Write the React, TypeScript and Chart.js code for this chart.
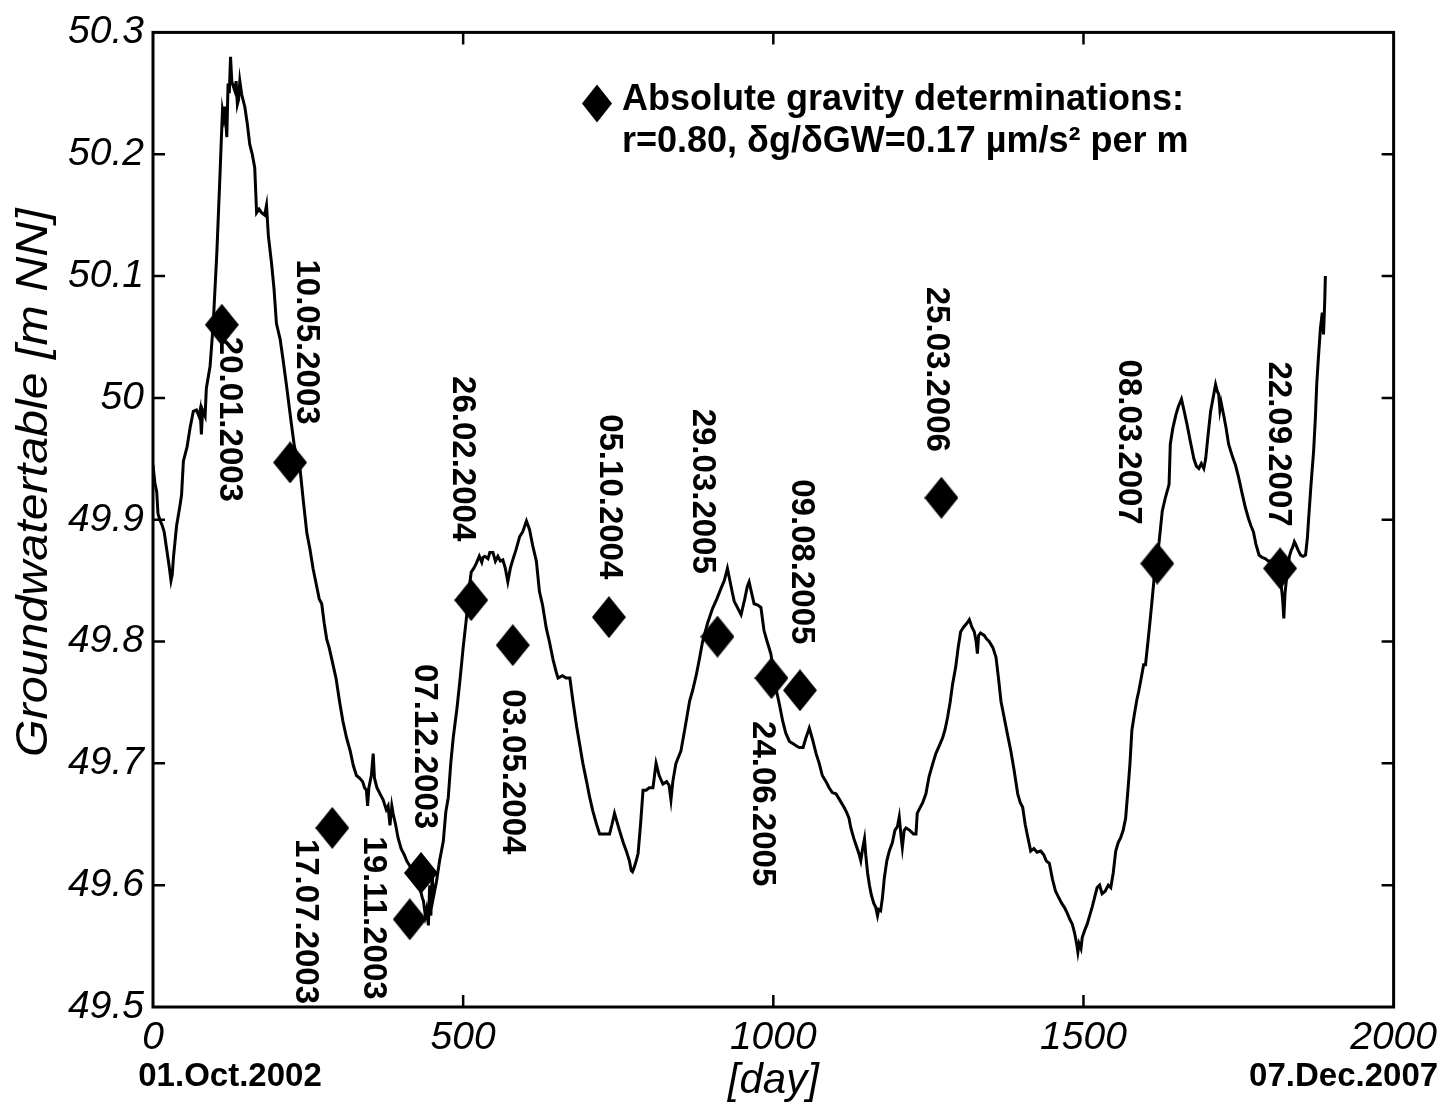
import React, { useEffect, useRef } from 'react';
import { Chart, registerables } from 'chart.js';

Chart.register(...registerables);

// ---------------- data ----------------
// Groundwater table, days since 01.Oct.2002
const gwDays = [
  0, 3, 6, 8, 11, 15, 18, 22, 26, 29, 31, 33, 38, 43, 46, 49, 55, 60, 65, 70, 74, 76, 78, 80, 84, 86, 92, 97,
  103, 108, 110, 112, 114, 116, 119, 121, 123, 125, 127, 128, 132, 134, 136, 138, 140, 143, 148, 152, 156, 160,
  164, 167, 171, 175, 180, 183, 186, 191, 195, 199, 205, 210, 215, 223, 228, 234, 237, 242, 248, 253, 258, 264,
  268, 272, 276, 280, 284, 288, 295, 301, 306, 312, 318, 323, 328, 333, 338, 341, 344, 346, 348, 352, 355, 357,
  361, 366, 371, 376, 379, 382, 385, 387, 391, 395, 400, 405, 409, 415, 420, 425, 430, 434, 436, 439, 441, 444,
  446, 448, 450, 452, 457, 462, 468, 472, 476, 480, 484, 490, 495, 500, 505, 510, 513, 517, 521, 526, 530, 532,
  535, 540, 543, 548, 552, 556, 560, 564, 568, 572, 576, 580, 585, 591, 596, 602, 607, 612, 618, 623, 628, 634,
  639, 645, 650, 653, 660, 666, 672, 677, 683, 688, 693, 699, 704, 709, 715, 720, 728, 736, 740, 744, 748, 752,
  758, 763, 768, 771, 773, 776, 779, 782, 786, 790, 795, 800, 806, 811, 816, 822, 828, 832, 835, 838, 843, 847,
  851, 858, 865, 870, 876, 881, 886, 894, 902, 909, 916, 921, 926, 930, 934, 937, 942, 948, 954, 958, 961, 965,
  969, 975, 980, 985, 990, 996, 1000, 1004, 1010, 1015, 1020, 1026, 1032, 1038, 1042, 1048, 1052, 1058, 1063,
  1069, 1074, 1079, 1085, 1090, 1095, 1101, 1107, 1114, 1118, 1122, 1125, 1130, 1134, 1138, 1141, 1144, 1147,
  1149, 1152, 1155, 1158, 1162, 1165, 1168, 1170, 1173, 1176, 1179, 1183, 1187, 1192, 1196, 1200, 1203, 1206,
  1208, 1211, 1214, 1220, 1226, 1230, 1232, 1236, 1241, 1246, 1251, 1256, 1262, 1268, 1273, 1277, 1281, 1285,
  1289, 1294, 1298, 1302, 1307, 1312, 1316, 1320, 1324, 1327, 1329, 1331, 1334, 1340, 1344, 1348, 1354, 1359,
  1363, 1367, 1372, 1377, 1383, 1388, 1394, 1398, 1402, 1406, 1410, 1415, 1420, 1425, 1431, 1436, 1440, 1445,
  1450, 1455, 1460, 1465, 1469, 1473, 1478, 1482, 1486, 1489, 1491, 1493, 1496, 1498, 1502, 1506, 1510, 1514,
  1518, 1522, 1526, 1530, 1535, 1540, 1544, 1548, 1552, 1556, 1560, 1564, 1568, 1572, 1575, 1578, 1582, 1586,
  1589, 1592, 1597, 1600, 1604, 1608, 1611, 1613, 1616, 1619, 1622, 1627, 1632, 1638, 1640, 1644, 1649, 1653,
  1658, 1662, 1667, 1672, 1678, 1682, 1686, 1690, 1694, 1697, 1701, 1705, 1709, 1713, 1716, 1718, 1720, 1722,
  1726, 1730, 1734, 1740, 1745, 1750, 1756, 1761, 1766, 1770, 1774, 1778, 1783, 1788, 1793, 1798, 1804, 1808,
  1812, 1815, 1818, 1821, 1823, 1825, 1827, 1829, 1832, 1835, 1837, 1840, 1842, 1846, 1850, 1854, 1858, 1861,
  1863, 1867, 1871, 1874, 1876, 1879, 1882, 1885, 1887, 1889, 1890,
];

const gwLevels = [
  49.945, 49.93, 49.923, 49.905, 49.9, 49.895, 49.89, 49.876, 49.862, 49.85, 49.855, 49.869, 49.895, 49.91,
  49.92, 49.948, 49.96, 49.976, 49.989, 49.99, 49.985, 49.99, 49.97, 49.99, 49.985, 50.008, 50.026, 50.06,
  50.12, 50.183, 50.21, 50.236, 50.23, 50.239, 50.214, 50.258, 50.25, 50.28, 50.26, 50.258, 50.252, 50.26,
  50.241, 50.245, 50.26, 50.249, 50.239, 50.225, 50.208, 50.2, 50.189, 50.152, 50.155, 50.152, 50.15, 50.158,
  50.133, 50.111, 50.09, 50.061, 50.048, 50.03, 50.011, 49.979, 49.96, 49.948, 49.942, 49.917, 49.889, 49.876,
  49.86, 49.845, 49.835, 49.831, 49.815, 49.802, 49.795, 49.786, 49.77, 49.75, 49.735, 49.721, 49.71, 49.698,
  49.69, 49.688, 49.685, 49.68, 49.678, 49.665, 49.68, 49.69, 49.708, 49.688, 49.68, 49.675, 49.67, 49.662,
  49.665, 49.649, 49.665, 49.659, 49.65, 49.639, 49.63, 49.625, 49.62, 49.615, 49.61, 49.607, 49.598, 49.59,
  49.587, 49.575, 49.58, 49.567, 49.6, 49.575, 49.61, 49.59, 49.603, 49.62, 49.636, 49.66, 49.672, 49.7,
  49.721, 49.745, 49.769, 49.795, 49.818, 49.845, 49.857, 49.86, 49.864, 49.87, 49.865, 49.869, 49.87, 49.868,
  49.873, 49.873, 49.866, 49.87, 49.866, 49.867, 49.86, 49.849, 49.86, 49.867, 49.875, 49.886, 49.89, 49.899,
  49.892, 49.879, 49.866, 49.841, 49.83, 49.811, 49.8, 49.785, 49.775, 49.77, 49.772, 49.77, 49.77, 49.751,
  49.73, 49.715, 49.7, 49.685, 49.672, 49.661, 49.65, 49.642, 49.642, 49.642, 49.65, 49.659, 49.652, 49.645,
  49.635, 49.628, 49.62, 49.612, 49.611, 49.615, 49.62, 49.626, 49.65, 49.678, 49.678, 49.68, 49.68, 49.7,
  49.69, 49.683, 49.685, 49.682, 49.67, 49.685, 49.7, 49.705, 49.71, 49.73, 49.751, 49.76, 49.773, 49.786,
  49.8, 49.815, 49.827, 49.835, 49.844, 49.85, 49.86, 49.85, 49.84, 49.833, 49.828, 49.822, 49.835, 49.845,
  49.849, 49.84, 49.831, 49.83, 49.828, 49.809, 49.8, 49.79, 49.777, 49.762, 49.748, 49.735, 49.725, 49.718,
  49.716, 49.714, 49.713, 49.713, 49.72, 49.729, 49.72, 49.708, 49.7, 49.69, 49.685, 49.68, 49.676, 49.675,
  49.67, 49.664, 49.66, 49.655, 49.647, 49.638, 49.632, 49.626, 49.62, 49.63, 49.638, 49.625, 49.61, 49.6,
  49.592, 49.585, 49.582, 49.575, 49.58, 49.579, 49.59, 49.606, 49.62, 49.628, 49.635, 49.645, 49.648, 49.656,
  49.64, 49.631, 49.645, 49.647, 49.645, 49.642, 49.642, 49.659, 49.663, 49.668, 49.675, 49.689, 49.698,
  49.708, 49.715, 49.721, 49.728, 49.738, 49.75, 49.765, 49.779, 49.795, 49.808, 49.812, 49.815, 49.818,
  49.812, 49.808, 49.8, 49.79, 49.805, 49.807, 49.805, 49.802, 49.8, 49.795, 49.787, 49.77, 49.751, 49.738,
  49.725, 49.71, 49.695, 49.675, 49.668, 49.664, 49.65, 49.64, 49.628, 49.63, 49.627, 49.628, 49.625, 49.62,
  49.618, 49.605, 49.595, 49.59, 49.585, 49.582, 49.578, 49.572, 49.568, 49.56, 49.552, 49.545, 49.552,
  49.548, 49.557, 49.563, 49.568, 49.575, 49.582, 49.59, 49.598, 49.6, 49.593, 49.595, 49.6, 49.598, 49.61,
  49.628, 49.635, 49.639, 49.645, 49.655, 49.68, 49.7, 49.727, 49.74, 49.752, 49.759, 49.767, 49.781, 49.781,
  49.8, 49.82, 49.836, 49.847, 49.866, 49.87, 49.882, 49.907, 49.918, 49.929, 49.962, 49.975, 49.986, 49.993,
  49.999, 49.99, 49.978, 49.965, 49.95, 49.944, 49.942, 49.946, 49.942, 49.95, 49.97, 49.989, 50.0, 50.011,
  50.005, 50.003, 49.99, 49.996, 49.986, 49.975, 49.962, 49.952, 49.945, 49.935, 49.921, 49.91, 49.901,
  49.895, 49.89, 49.88, 49.871, 49.869, 49.868, 49.866, 49.866, 49.862, 49.865, 49.86, 49.85, 49.835, 49.819,
  49.84, 49.85, 49.858, 49.87, 49.875, 49.877, 49.882, 49.88, 49.875, 49.871, 49.87, 49.871, 49.885, 49.901,
  49.93, 49.956, 49.985, 50.011, 50.035, 50.057, 50.07, 50.052, 50.08, 50.1,
];

// Absolute gravity determinations
const agDays = [111, 221, 289, 414, 432, 513, 580, 735, 910, 997, 1043, 1271, 1619, 1817];
const agLevels = [50.06, 49.947, 49.647, 49.572, 49.61, 49.834, 49.797, 49.82, 49.804, 49.77, 49.76, 49.918, 49.864, 49.86];
const agDates = [
  '20.01.2003', '10.05.2003', '17.07.2003', '19.11.2003', '07.12.2003', '26.02.2004', '03.05.2004',
  '05.10.2004', '29.03.2005', '24.06.2005', '09.08.2005', '25.03.2006', '08.03.2007', '22.09.2007',
];

// axes
const xMin = 0;
const xMax = 2000;
const xStep = 500;
const yMin = 49.5;
const yMax = 50.3;
const yStep = 0.1;
const xTitle = '[day]';
const yTitle = 'Groundwatertable [m NN]';
const xStartLabel = '01.Oct.2002';
const xEndLabel = '07.Dec.2007';
const legendLines = ['Absolute gravity determinations:', 'r=0.80, \u03B4g/\u03B4GW=0.17 \u00B5m/s\u00B2 per m'];

// ---------------- layout / styles ----------------
const FONT = '"Liberation Sans", Arial, Helvetica, sans-serif';
// date label placement relative to marker: [centre-x offset, top offset]
const labelOffsets: [number, number][] = [
  [7, 12], [16, -203], [-27, 11], [-37, -83], [3, -209], [-9, -224], [-1, 44],
  [0, -203], [-15, -228], [-9, 43], [1, -211], [-5, -211], [-29, -204], [-2, -207],
];

function makeDiamond(w: number, h: number): HTMLCanvasElement {
  const c = document.createElement('canvas');
  c.width = w;
  c.height = h;
  const g = c.getContext('2d')!;
  g.fillStyle = '#000';
  g.beginPath();
  g.moveTo(w / 2, 0);
  g.lineTo(w, h / 2);
  g.lineTo(w / 2, h);
  g.lineTo(0, h / 2);
  g.closePath();
  g.fill();
  return c;
}

const decorPlugin = {
  id: 'decor',
  afterDraw(chart: any) {
    const ctx: CanvasRenderingContext2D = chart.ctx;
    const { left, right, top, bottom } = chart.chartArea;
    const xs = chart.scales.x;
    const ys = chart.scales.y;
    ctx.save();
    ctx.strokeStyle = '#000';
    ctx.fillStyle = '#000';

    // frame
    ctx.lineWidth = 3;
    ctx.strokeRect(left, top, right - left, bottom - top);

    // inward ticks
    ctx.lineWidth = 2.5;
    const tl = 12;
    ctx.beginPath();
    xs.ticks.forEach((t: any) => {
      const px = xs.getPixelForValue(t.value);
      if (px <= left + 2 || px >= right - 2) return;
      ctx.moveTo(px, bottom);
      ctx.lineTo(px, bottom - tl);
      ctx.moveTo(px, top);
      ctx.lineTo(px, top + tl);
    });
    ys.ticks.forEach((t: any) => {
      const py = ys.getPixelForValue(t.value);
      if (py <= top + 2 || py >= bottom - 2) return;
      ctx.moveTo(left, py);
      ctx.lineTo(left + tl, py);
      ctx.moveTo(right, py);
      ctx.lineTo(right - tl, py);
    });
    ctx.stroke();

    // rotated date labels
    const meta = chart.getDatasetMeta(0);
    ctx.font = `bold 33px ${FONT}`;
    ctx.textAlign = 'left';
    ctx.textBaseline = 'middle';
    meta.data.forEach((pt: any, i: number) => {
      const [dx, dy] = labelOffsets[i];
      ctx.save();
      ctx.translate(pt.x + dx, pt.y + dy);
      ctx.rotate(Math.PI / 2);
      ctx.fillText(agDates[i], 0, 0);
      ctx.restore();
    });

    // legend
    const lx = left + 444;
    const ly = top + 71;
    ctx.beginPath();
    ctx.moveTo(lx, ly - 19);
    ctx.lineTo(lx + 15, ly);
    ctx.lineTo(lx, ly + 19);
    ctx.lineTo(lx - 15, ly);
    ctx.closePath();
    ctx.fill();
    ctx.font = `bold 36px ${FONT}`;
    ctx.textAlign = 'left';
    ctx.textBaseline = 'alphabetic';
    ctx.fillText(legendLines[0], left + 469, top + 78);
    ctx.fillText(legendLines[1], left + 469, top + 120);

    // start / end dates under x axis
    ctx.font = `bold 33px ${FONT}`;
    ctx.textAlign = 'center';
    ctx.textBaseline = 'middle';
    ctx.fillText(xStartLabel, xs.getPixelForValue(xMin) + 77, bottom + 70);
    ctx.fillText(xEndLabel, xs.getPixelForValue(xMax) - 50, bottom + 70);

    // y axis title
    ctx.save();
    ctx.translate(47, (top + bottom) / 2 - 37);
    ctx.rotate(-Math.PI / 2);
    ctx.scale(1.1, 1);
    ctx.font = `italic 44px ${FONT}`;
    ctx.textAlign = 'center';
    ctx.textBaseline = 'alphabetic';
    ctx.fillText(yTitle, 0, 0);
    ctx.restore();

    ctx.restore();
  },
};

export default function App() {
  const ref = useRef<HTMLCanvasElement | null>(null);

  useEffect(() => {
    const canvas = ref.current;
    if (!canvas) return;
    const diamond = makeDiamond(34, 42);

    const chart = new Chart(canvas, {
      type: 'line',
      data: {
        datasets: [
          {
            type: 'scatter',
            data: agDays.map((d, i) => ({ x: d, y: agLevels[i] })),
            pointStyle: diamond as any,
            pointRadius: 20,
            showLine: false,
            borderColor: '#000',
            backgroundColor: '#000',
          } as any,
          {
            type: 'line',
            data: gwDays.map((d, i) => ({ x: d, y: gwLevels[i] })),
            borderColor: '#000',
            borderWidth: 3,
            pointRadius: 0,
            tension: 0,
            fill: false,
          } as any,
        ],
      },
      options: {
        responsive: false,
        animation: false,
        devicePixelRatio: 1,
        layout: { padding: { left: 0, top: 30, right: 50, bottom: 0 } },
        plugins: {
          legend: { display: false },
          tooltip: { enabled: false },
        },
        scales: {
          x: {
            type: 'linear',
            position: 'bottom',
            min: xMin,
            max: xMax,
            grid: { display: false, drawTicks: false },
            border: { display: false },
            ticks: {
              stepSize: xStep,
              color: '#000',
              padding: 8,
              maxRotation: 0,
              autoSkip: false,
              font: { family: FONT, size: 39, style: 'italic' },
              callback: (v: any) => String(Math.round(Number(v))),
            },
            title: {
              display: true,
              text: xTitle,
              color: '#000',
              padding: { top: 0, bottom: 0 },
              font: { family: FONT, size: 42, style: 'italic' },
            },
            afterFit: (s: any) => {
              s.height = 100;
            },
          },
          y: {
            type: 'linear',
            min: yMin,
            max: yMax,
            grid: { display: false, drawTicks: false },
            border: { display: false },
            ticks: {
              stepSize: yStep,
              color: '#000',
              padding: 9,
              font: { family: FONT, size: 39, style: 'italic' },
              callback: (v: any) => {
                const n = Math.round(Number(v) * 10) / 10;
                return Number.isInteger(n) ? String(n) : n.toFixed(1);
              },
            },
            afterFit: (s: any) => {
              s.width = 153;
            },
          },
        },
      } as any,
      plugins: [decorPlugin],
    });

    return () => chart.destroy();
  }, []);

  return (
    <div style={{ position: 'absolute', left: 0, top: 0, width: 1445, height: 1107, background: '#fff' }}>
      <canvas ref={ref} width={1445} height={1107} style={{ display: 'block', width: 1445, height: 1107 }} />
    </div>
  );
}
